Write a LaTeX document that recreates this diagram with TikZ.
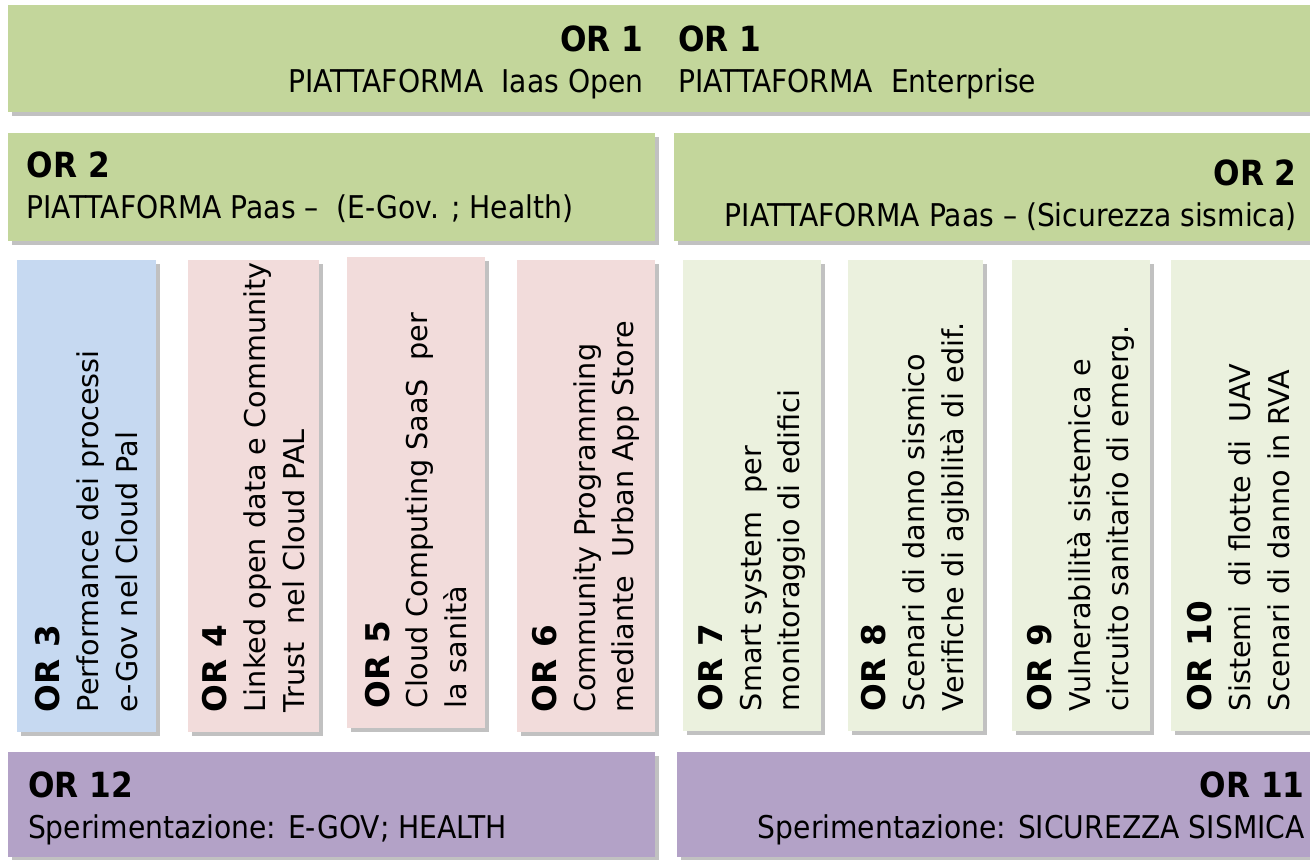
\documentclass[tikz,border=0pt]{standalone}
\usepackage{fontspec}
\setmainfont{DejaVu Sans}
\newfontfamily\tahoma[FakeStretch=0.9]{DejaVu Sans}
\usetikzlibrary{positioning,fit,shadows}

\definecolor{platgreen}{HTML}{C3D69B}
\definecolor{egovblue}{HTML}{C6D9F1}
\definecolor{healthpink}{HTML}{F2DCDB}
\definecolor{sismagreen}{HTML}{EBF1DE}
\definecolor{testpurple}{HTML}{B3A2C7}

\newcommand{\orwide}[1]{{\fontsize{26}{31}\selectfont\bfseries #1}}
\newcommand{\ortall}[1]{{\fontsize{24.5}{29}\selectfont\bfseries #1}}

\begin{document}
\begin{tikzpicture}[x=0.75pt, y=-0.75pt,
	block/.style = { rectangle, draw=none, inner sep=0pt,
	drop shadow={shadow xshift=3pt, shadow yshift=-3pt, opacity=0.4, fill=black!60} },
	bar/.style = { block, fill=platgreen },
	wide/.style = { font=\fontsize{23.5}{31}\selectfont\tahoma, inner sep=0pt },
	tall/.style = { font=\fontsize{21.5}{29}\selectfont, rotate=90, anchor=west,
	align=left, inner sep=0pt } ]

  \path [use as bounding box, fill=white] (0,0) rectangle (1310,860);

  % platform bars
  \node [name=or1open, bar, fit={(8,5) (658,112)}] {};
  \node [name=or1ent, bar, fit={(658,5) (1330,112)}] {};
  \node [name=or2egov, bar, fit={(8,133) (655,241)}] {};
  \node [name=or2sism, bar, fit={(674,133) (1330,241)}] {};

  \node [name=or1opentxt, wide, align=right, anchor=east]
	at ([xshift=-11pt, yshift=-3pt]or1open.east) {\orwide{OR 1}\\PIATTAFORMA~ Iaas Open};
  \node [name=or1enttxt, wide, align=left, anchor=west]
	at ([xshift=15pt, yshift=-3pt]or1ent.west) {\orwide{OR 1}\\PIATTAFORMA~ Enterprise};
  \node [name=or2egovtxt, wide, align=left, anchor=west]
	at ([xshift=14pt]or2egov.west) {\orwide{OR 2}\\PIATTAFORMA Paas –~ (E-Gov. ; Health)};
  \node [name=or2sismtxt, wide, align=right, anchor=east]
	at ([xshift=-25pt, yshift=-6pt]or2sism.east) {\orwide{OR 2}\\PIATTAFORMA Paas – (Sicurezza sismica)};

  % work packages
  \node [name=or3, block, fill=egovblue, fit={(17,260) (156,732)}] {};
  \node [name=or4, block, fill=healthpink, fit={(188,260) (319,732)}] {};
  \node [name=or5, block, fill=healthpink, fit={(347,257) (485,728)}] {};
  \node [name=or6, block, fill=healthpink, fit={(517,260) (655,732)}] {};
  \node [name=or7, block, fill=sismagreen, fit={(683,260) (821,731)}] {};
  \node [name=or8, block, fill=sismagreen, fit={(848,260) (983,731)}] {};
  \node [name=or9, block, fill=sismagreen, fit={(1012,260) (1150,731)}] {};
  \node [name=or10, block, fill=sismagreen, fit={(1171,260) (1330,731)}] {};

  \node [name=or3txt, tall] at ([yshift=15pt]or3.south)
	{\ortall{OR 3}\\Performance dei processi\\e-Gov nel Cloud Pal};
  \node [name=or4txt, tall] at ([yshift=15pt]or4.south)
	{\ortall{OR 4}\\Linked open data e Community\\Trust~ nel Cloud PAL};
  \node [name=or5txt, tall] at ([yshift=15pt]or5.south)
	{\ortall{OR 5}\\Cloud Computing SaaS~ per\\la sanità};
  \node [name=or6txt, tall] at ([yshift=15pt]or6.south)
	{\ortall{OR 6}\\Community Programming\\mediante~ Urban App Store};
  \node [name=or7txt, tall] at ([yshift=15pt]or7.south)
	{\ortall{OR 7}\\Smart system~ per\\monitoraggio di edifici};
  \node [name=or8txt, tall] at ([yshift=15pt]or8.south)
	{\ortall{OR 8}\\Scenari di danno sismico\\Verifiche di agibilità di edif.};
  \node [name=or9txt, tall] at ([yshift=15pt]or9.south)
	{\ortall{OR 9}\\Vulnerabilità sistemica e\\circuito sanitario di emerg.};
  \node [name=or10txt, tall] at ([yshift=15pt, xshift=-9pt]or10.south)
	{\ortall{OR 10}\\Sistemi~ di flotte di~ UAV\\Scenari di danno in RVA};

  % experimentation
  \node [name=or12, block, fill=testpurple, fit={(8,752) (655,857)}] {};
  \node [name=or11, block, fill=testpurple, fit={(677,752) (1330,857)}] {};

  \node [name=or12txt, wide, align=left, anchor=west]
	at ([xshift=15pt, yshift=-3pt]or12.west) {\orwide{OR 12}\\Sperimentazione: E-GOV; HEALTH};
  \node [name=or11txt, wide, align=right, anchor=east]
	at ([xshift=-19pt, yshift=-3pt]or11.east) {\orwide{OR 11}\\Sperimentazione: SICUREZZA SISMICA};
\end{tikzpicture}
\end{document}
